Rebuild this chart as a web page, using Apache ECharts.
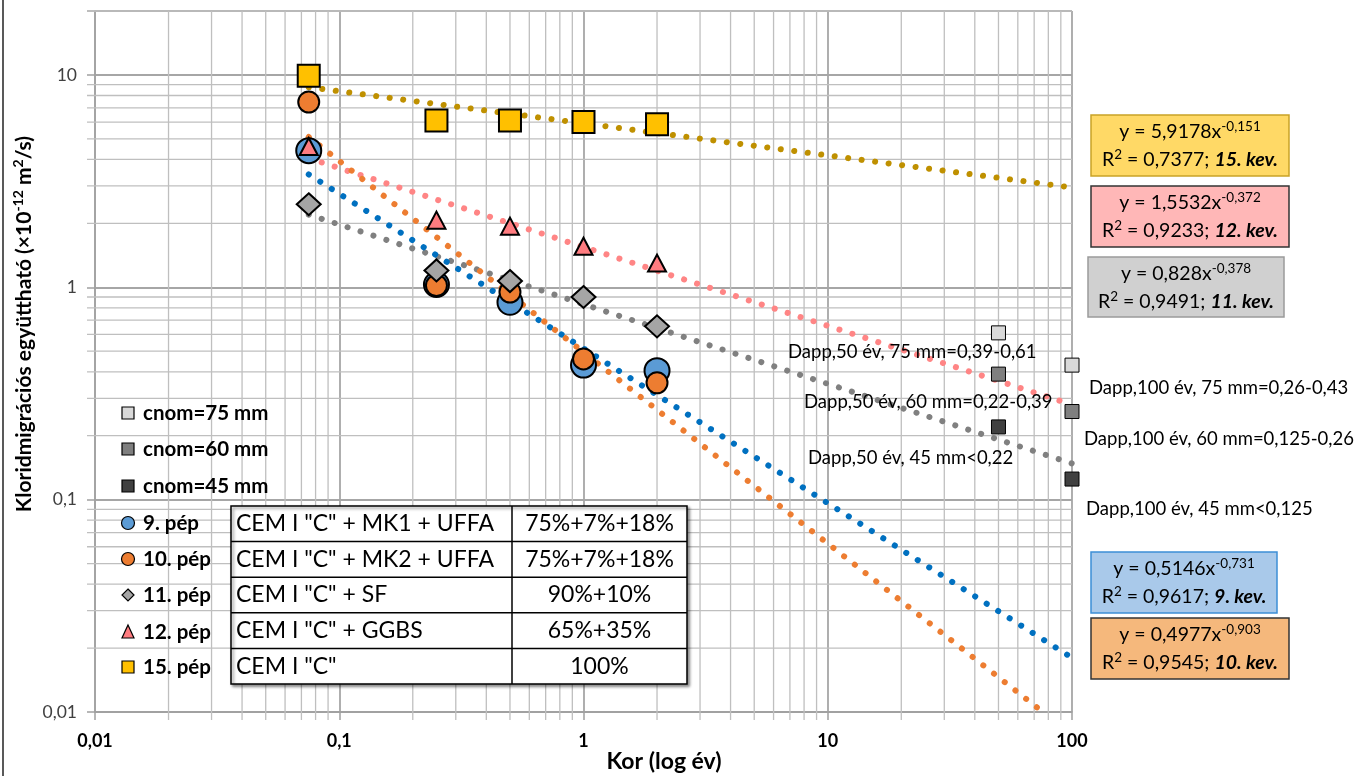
<!DOCTYPE html>
<html lang="hu">
<head>
<meta charset="UTF-8">
<script src="https://cdn.jsdelivr.net/npm/echarts@6.0.0/dist/echarts.min.js"></script>
<title>Kloridmigrációs együttható</title>
<style>
    html, body { margin: 0; padding: 0; background: #fff; }
    #main { width: 1362px; height: 776px; }
</style>
</head>
<body>
<div id="main"></div>
<script type="text/javascript">
    // mérési időpontok (év)
    var kor = [0.075, 0.25, 0.5, 1, 2];
    var pep9 = [4.4, 1.03, 0.85, 0.43, 0.405];
    var pep10 = [7.45, 1.02, 0.95, 0.46, 0.355];
    var pep11 = [2.46, 1.2, 1.07, 0.9, 0.655];
    var pep12 = [4.6, 2.07, 1.94, 1.56, 1.3];
    var pep15 = [9.9, 6.1, 6.1, 6.0, 5.85];

    // trendvonalak végpontjai (log-log skálán egyenesek)
    var trend9 = [[0.075, 3.4], [100, 0.018]];
    var trend10 = [[0.075, 5.1], [76, 0.01]];
    var trend11 = [[0.075, 2.2], [100, 0.148]];
    var trend12 = [[0.075, 4.05], [100, 0.28]];
    var trend15 = [[0.075, 8.75], [100, 2.95]];

    // Dapp becslés 50 és 100 évre
    var dappKor = [50, 100];
    var cnom75 = [0.61, 0.43];
    var cnom60 = [0.39, 0.26];
    var cnom45 = [0.22, 0.125];

    // log osztások (segédrács)
    var xMinor = [0.02, 0.03, 0.04, 0.05, 0.06, 0.07, 0.08, 0.09,
        0.2, 0.3, 0.4, 0.5, 0.6, 0.7, 0.8, 0.9,
        2, 3, 4, 5, 6, 7, 8, 9,
        20, 30, 40, 50, 60, 70, 80, 90];
    var yMinor = [0.02, 0.03, 0.04, 0.05, 0.06, 0.07, 0.08, 0.09,
        0.2, 0.3, 0.4, 0.5, 0.6, 0.7, 0.8, 0.9,
        2, 3, 4, 5, 6, 7, 8, 9, 20];

    var legendNevek = ['cnom=75 mm', 'cnom=60 mm', 'cnom=45 mm', '9. pép', '10. pép', '11. pép', '12. pép', '15. pép'];
    var keverek = ['CEM I "C" + MK1 + UFFA', 'CEM I "C" + MK2 + UFFA', 'CEM I "C" + SF', 'CEM I "C" + GGBS', 'CEM I "C"'];
    var aranyok = ['75%+7%+18%', '75%+7%+18%', '90%+10%', '65%+35%', '100%'];

    var egyA = ['5,9178', '1,5532', '0,828', '0,5146', '0,4977'];
    var egyB = ['-0,151', '-0,372', '-0,378', '-0,731', '-0,903'];
    var egyR2 = ['0,7377', '0,9233', '0,9491', '0,9617', '0,9545'];
    var egyKev = ['15. kev.', '12. kev.', '11. kev.', '9. kev.', '10. kev.'];

    var dappFeliratok = ['Dapp,50 év, 75 mm=0,39-0,61', 'Dapp,50 év, 60 mm=0,22-0,39', 'Dapp,50 év, 45 mm<0,22',
        'Dapp,100 év, 75 mm=0,26-0,43', 'Dapp,100 év, 60 mm=0,125-0,26', 'Dapp,100 év, 45 mm<0,125'];

    var FONT = 'Lato, "Open Sans", sans-serif';

    function pontok(xs, ys) {
        return xs.map(function (x, i) { return [x, ys[i]]; });
    }

    function cimke(v) {
        var l = Math.log(v) / Math.LN10;
        if (Math.abs(l - Math.round(l)) > 1e-6) return '';
        return String(+v.toPrecision(3)).replace('.', ',');
    }

    // segédrács + külső osztásjelek
    function fuggolegesRacs(params, api) {
        var cs = params.coordSys;
        var x = api.coord([api.value(0), 1])[0];
        return {
            type: 'line', silent: true,
            shape: { x1: x, y1: cs.y, x2: x, y2: cs.y + cs.height + 8 },
            style: { stroke: '#bfbfbf', lineWidth: 1.3 }
        };
    }
    function vizszintesRacs(params, api) {
        var cs = params.coordSys;
        var y = api.coord([1, api.value(1)])[1];
        return {
            type: 'line', silent: true,
            shape: { x1: cs.x - 8, y1: y, x2: cs.x + cs.width, y2: y },
            style: { stroke: '#bfbfbf', lineWidth: 1.3 }
        };
    }

    function trend(adat, szin) {
        return {
            type: 'line', data: adat, symbol: 'none', silent: true, z: 3,
            lineStyle: { color: szin, width: 6, type: [0.1, 13.5], cap: 'round' }
        };
    }

    function pep(nev, ys, symbol, size, szin) {
        return {
            name: nev, type: 'scatter', data: pontok(kor, ys), symbol: symbol, symbolSize: size, z: 5,
            itemStyle: { color: szin, borderColor: '#000', borderWidth: 2, opacity: 1 }
        };
    }

    function dapp(ys, szin) {
        return {
            type: 'scatter', data: pontok(dappKor, ys), symbol: 'rect', symbolSize: 14, z: 5,
            itemStyle: { color: szin, borderColor: '#000', borderWidth: 1, opacity: 1 }
        };
    }

    // ---- grafikus elemek ----
    var g = [];
    g.push({ type: 'line', shape: { x1: 3, y1: 0, x2: 3, y2: 776 }, style: { stroke: '#595959', lineWidth: 2 }, z: 100 });

    // tengelycímek
    g.push({
        type: 'text', x: 24, y: 324, rotation: Math.PI / 2, z: 100,
        style: {
            text: '{b|Kloridmigrációs együttható (×10}{s|-12}{b| m}{s|2}{b|/s)}',
            align: 'center', verticalAlign: 'middle',
            rich: {
                b: { fontFamily: FONT, fontSize: 21, fontWeight: 'bold', fill: '#000', lineHeight: 26 },
                s: { fontFamily: FONT, fontSize: 14, fontWeight: 'bold', fill: '#000', lineHeight: 15, verticalAlign: 'top' }
            }
        }
    });
    g.push({
        type: 'text', x: 664, y: 762, z: 100,
        style: { text: 'Kor (log év)', font: 'bold 23px ' + FONT, fill: '#000', align: 'center', verticalAlign: 'middle' }
    });

    // jelmagyarázat
    var legY = [413, 449, 486, 523, 559, 595, 632, 667];
    var cnomSzin = ['#d9d9d9', '#7f7f7f', '#404040'];
    legendNevek.forEach(function (nev, i) {
        var y = legY[i];
        var st = { stroke: '#000', lineWidth: 1.2 };
        if (i < 3) {
            g.push({ type: 'rect', shape: { x: 122, y: y - 6, width: 12, height: 12 }, style: Object.assign({ fill: cnomSzin[i] }, st), z: 100 });
        } else if (i === 3 || i === 4) {
            g.push({ type: 'circle', shape: { cx: 128, cy: y, r: 6.5 }, style: Object.assign({ fill: i === 3 ? '#5b9bd5' : '#ed7d31' }, st), z: 100 });
        } else if (i === 5) {
            g.push({ type: 'polygon', shape: { points: [[128, y - 6], [134, y], [128, y + 6], [122, y]] }, style: Object.assign({ fill: '#a5a5a5' }, st), z: 100 });
        } else if (i === 6) {
            g.push({ type: 'polygon', shape: { points: [[128, y - 7], [134, y + 6], [122, y + 6]] }, style: Object.assign({ fill: '#ff7c80' }, st), z: 100 });
        } else {
            g.push({ type: 'rect', shape: { x: 122, y: y - 6, width: 12, height: 12 }, style: Object.assign({ fill: '#ffc000' }, st), z: 100 });
        }
        g.push({ type: 'text', x: 143, y: y, z: 100, style: { text: nev, font: 'bold 20.5px ' + FONT, fill: '#000', verticalAlign: 'middle' } });
    });

    // táblázat
    var tX = 231, tY = 506, tW = 456, tH = 178, tCol = 512;
    var sorH = tH / keverek.length;
    g.push({
        type: 'rect', shape: { x: tX, y: tY, width: tW, height: tH }, z: 100,
        style: { fill: '#fff', stroke: '#000', lineWidth: 1.5, shadowBlur: 3, shadowOffsetX: 2, shadowOffsetY: 2, shadowColor: 'rgba(0,0,0,0.45)' }
    });
    for (var r = 1; r < keverek.length; r++) {
        g.push({ type: 'line', shape: { x1: tX, y1: tY + r * sorH, x2: tX + tW, y2: tY + r * sorH }, style: { stroke: '#000', lineWidth: 1.5 }, z: 101 });
    }
    g.push({ type: 'line', shape: { x1: tCol, y1: tY, x2: tCol, y2: tY + tH }, style: { stroke: '#000', lineWidth: 1.5 }, z: 101 });
    keverek.forEach(function (k, i) {
        var cy = tY + (i + 0.5) * sorH;
        g.push({ type: 'text', x: tX + 5, y: cy, z: 102, style: { text: k, font: '23px ' + FONT, fill: '#000', verticalAlign: 'middle' } });
        g.push({ type: 'text', x: (tCol + tX + tW) / 2, y: cy, z: 102, style: { text: aranyok[i], font: '23px ' + FONT, fill: '#000', align: 'center', verticalAlign: 'middle' } });
    });

    // egyenletek dobozai
    var dobozok = [
        { x: 1091, y: 115, w: 198, h: 61, fill: '#ffd966', stroke: '#c9a227' },
        { x: 1091, y: 186, w: 198, h: 61, fill: '#ffb7b7', stroke: '#333' },
        { x: 1088, y: 257, w: 196, h: 60, fill: '#d0d0d0', stroke: '#9a9a9a' },
        { x: 1091, y: 552, w: 186, h: 61, fill: '#a9c9ea', stroke: '#3d8fd6' },
        { x: 1091, y: 618, w: 198, h: 61, fill: '#f5b87c', stroke: '#333' }
    ];
    var egyRich = {
        n: { fontFamily: FONT, fontSize: 19.5, fill: '#000', lineHeight: 24 },
        s: { fontFamily: FONT, fontSize: 13.5, fill: '#000', lineHeight: 14, verticalAlign: 'top' },
        k: { fontFamily: FONT, fontSize: 19.5, fontWeight: 'bold', fontStyle: 'italic', fill: '#000', lineHeight: 24 }
    };
    dobozok.forEach(function (d, i) {
        var cx = d.x + d.w / 2;
        g.push({ type: 'rect', shape: { x: d.x, y: d.y, width: d.w, height: d.h }, style: { fill: d.fill, stroke: d.stroke, lineWidth: 1.5 }, z: 100 });
        g.push({
            type: 'text', x: cx, y: d.y + 17, z: 101,
            style: { text: '{n|y = ' + egyA[i] + 'x}{s|' + egyB[i] + '}', rich: egyRich, align: 'center', verticalAlign: 'middle' }
        });
        g.push({
            type: 'text', x: cx, y: d.y + 45, z: 101,
            style: { text: '{n|R}{s|2}{n| = ' + egyR2[i] + '; }{k|' + egyKev[i] + '}', rich: egyRich, align: 'center', verticalAlign: 'middle' }
        });
    });

    // Dapp feliratok
    var dappPoz = [[788, 352], [804, 402], [808, 458], [1089, 388], [1084, 439], [1086, 509]];
    dappFeliratok.forEach(function (t, i) {
        g.push({ type: 'text', x: dappPoz[i][0], y: dappPoz[i][1], z: 100, style: { text: t, font: '18.5px ' + FONT, fill: '#000', verticalAlign: 'middle' } });
    });

    var myChart = echarts.init(document.getElementById('main'));

    var option = {
        animation: false,
        backgroundColor: '#fff',
        grid: { left: 95, right: 290, top: 11, bottom: 64 },
        xAxis: {
            type: 'log', logBase: 10, min: 0.01, max: 100,
            axisLine: { show: true, lineStyle: { color: '#a0a0a0', width: 1.5 } },
            axisTick: { show: true, length: 8, lineStyle: { color: '#a0a0a0', width: 1.5 } },
            axisLabel: { formatter: cimke, fontFamily: FONT, fontSize: 18, fontWeight: 'bold', color: '#000', margin: 20 },
            splitLine: { show: true, lineStyle: { color: '#a6a6a6', width: 1.8 } }
        },
        yAxis: {
            type: 'log', logBase: 10, min: 0.01, max: 20,
            axisLine: { show: true, lineStyle: { color: '#a0a0a0', width: 1.5 } },
            axisTick: { show: true, length: 8, lineStyle: { color: '#a0a0a0', width: 1.5 } },
            axisLabel: { formatter: cimke, fontFamily: FONT, fontSize: 17.5, color: '#404040', margin: 18 },
            splitLine: { show: true, lineStyle: { color: '#a6a6a6', width: 1.8 } }
        },
        graphic: { elements: g },
        series: [
            { type: 'custom', renderItem: fuggolegesRacs, data: xMinor.map(function (v) { return [v, 1]; }), silent: true, z: 1 },
            { type: 'custom', renderItem: vizszintesRacs, data: yMinor.map(function (v) { return [1, v]; }), silent: true, z: 1 },
            trend(trend15, '#bf9000'),
            trend(trend12, '#ff8585'),
            trend(trend11, '#808080'),
            trend(trend9, '#0070c0'),
            trend(trend10, '#ed7d31'),
            pep('9. pép', pep9, 'circle', 25, '#5b9bd5'),
            pep('10. pép', pep10, 'circle', 21, '#ed7d31'),
            pep('11. pép', pep11, 'diamond', [24, 22], '#a5a5a5'),
            pep('12. pép', pep12, 'triangle', [18, 17], '#ff7c80'),
            pep('15. pép', pep15, 'rect', 22, '#ffc000'),
            dapp(cnom75, '#d9d9d9'),
            dapp(cnom60, '#7f7f7f'),
            dapp(cnom45, '#404040')
        ]
    };

    myChart.setOption(option);
</script>
</body>
</html>
